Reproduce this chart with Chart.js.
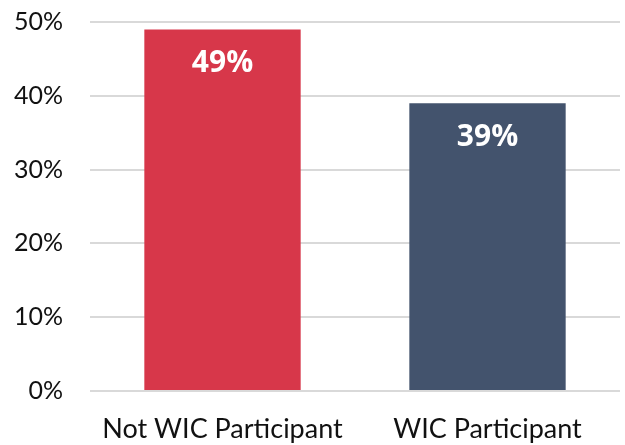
<!DOCTYPE html>
<html><head><meta charset="utf-8">
<script src="https://cdn.jsdelivr.net/npm/chart.js@4/dist/chart.umd.min.js"></script>
<style>html,body{margin:0;padding:0;background:#fff}#wrap{width:625px;height:445px}</style>
</head><body><div id="wrap"><canvas id="c"></canvas></div>
<script>
const categories = ["Not WIC Participant", "WIC Participant"];
const values = [49, 39];
const barColors = ["#D7374A", "#43536D"];
const yTicks = [0, 10, 20, 30, 40, 50];

const labelPlugin = {
  id: 'barLabels',
  afterDatasetsDraw(chart) {
    const ctx = chart.ctx;
    const meta = chart.getDatasetMeta(0);
    ctx.save();
    ctx.fillStyle = '#ffffff';
    ctx.font = 'bold 30px "Open Sans"';
    ctx.textAlign = 'center';
    ctx.textBaseline = 'middle';
    meta.data.forEach((bar, i) => {
      ctx.fillText(values[i] + '%', bar.x, bar.y + 34);
    });
    ctx.restore();
  }
};

new Chart(document.getElementById('c'), {
  type: 'bar',
  data: { labels: categories, datasets: [{ data: values, backgroundColor: barColors, categoryPercentage: 1, barPercentage: 0.59 }] },
  options: {
    responsive: true, maintainAspectRatio: false, animation: false,
    layout: { padding: { top: 22, right: 5, left: 0, bottom: 0 } },
    plugins: { legend: { display: false }, tooltip: { enabled: false } },
    scales: {
      x: {
        grid: { display: false }, border: { display: false },
        ticks: { color: '#111', font: { family: 'Lato', size: 27 }, padding: 14 },
        afterFit(s) { s.height = 54; }
      },
      y: {
        min: 0, max: 50,
        afterBuildTicks(s) { s.ticks = yTicks.map(v => ({ value: v })); },
        grid: { color: '#d9d9d9', lineWidth: 2, drawTicks: false },
        border: { display: false },
        ticks: { color: '#111', font: { family: 'Lato', size: 25 }, padding: 27, callback: v => v + '%' },
        afterFit(s) { s.width = 90; s.paddingTop = 0; s.paddingBottom = 0; }
      }
    }
  },
  plugins: [labelPlugin]
});
</script></body></html>
